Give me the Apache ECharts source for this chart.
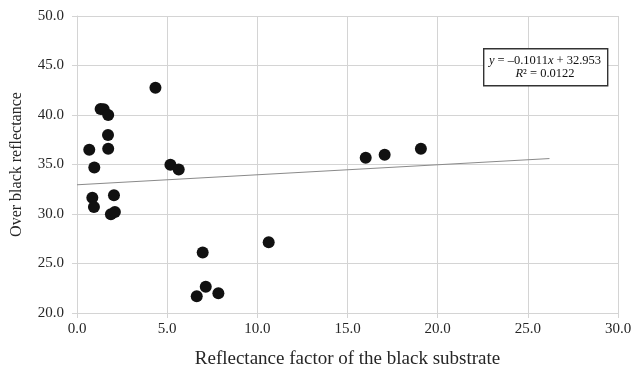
<!DOCTYPE html>
<html><head><meta charset="utf-8">
<script src="https://cdn.jsdelivr.net/npm/echarts@6/dist/echarts.min.js"></script>
<style>html,body{margin:0;padding:0;background:#fff}#c{width:633px;height:372px}</style>
</head><body><div id="c"></div>
<script>
// Data
const xValues = [0.68, 0.96, 0.85, 0.94, 1.31, 1.48, 1.73, 1.72, 1.73, 2.05, 1.88, 2.10, 4.35, 5.18, 5.64, 6.97, 7.14, 6.64, 7.84, 10.63, 16.01, 17.06, 19.07];
const yValues = [36.5, 34.7, 31.65, 30.7, 40.6, 40.57, 40.0, 37.98, 36.6, 31.9, 29.97, 30.2, 42.76, 34.98, 34.5, 26.1, 22.66, 21.7, 21.99, 27.14, 35.69, 35.99, 36.6];
const trendX = [0, 26.2];
const trendY = [32.95, 35.6];
const xTickLabels = ['0.0', '5.0', '10.0', '15.0', '20.0', '25.0', '30.0'];
const yTickLabels = ['20.0', '25.0', '30.0', '35.0', '40.0', '45.0', '50.0'];
const xTitle = 'Reflectance factor of the black substrate';
const yTitle = 'Over black reflectance';
const eqLine1 = ['y', ' = \u20130.1011', 'x', ' + 32.953'];
const eqLine2 = ['R', '\u00b2 = 0.0122'];

const chart = echarts.init(document.getElementById('c'), null, {renderer: 'canvas'});
const serif = '"Liberation Serif", "Times New Roman", serif';
const gridColor = '#d4d4d4';
const textColor = '#262626';

const points = xValues.map((x, i) => [x, yValues[i]]);
const trend = trendX.map((x, i) => [x, trendY[i]]);

chart.setOption({
  animation: false,
  backgroundColor: '#fff',
  grid: {left: 77, right: 15, top: 16, bottom: 59, containLabel: false, outerBoundsMode: 'none'},
  xAxis: {
    type: 'value', min: 0, max: 30, interval: 5,
    axisLine: {show: true, lineStyle: {color: gridColor, width: 1}},
    axisTick: {show: true, length: 5, lineStyle: {color: gridColor}},
    splitLine: {show: true, lineStyle: {color: gridColor, width: 1}},
    axisLabel: {
      margin: 9, color: textColor, fontFamily: serif, fontSize: 15,
      formatter: (v) => xTickLabels[Math.round(v / 5)]
    },
    name: xTitle, nameLocation: 'middle', nameGap: 37,
    nameTextStyle: {color: textColor, fontFamily: serif, fontSize: 19}
  },
  yAxis: {
    type: 'value', min: 20, max: 50, interval: 5,
    axisLine: {show: true, lineStyle: {color: gridColor, width: 1}},
    axisTick: {show: true, length: 5, lineStyle: {color: gridColor}},
    splitLine: {show: true, lineStyle: {color: gridColor, width: 1}},
    axisLabel: {
      margin: 13, color: textColor, fontFamily: serif, fontSize: 15,
      formatter: (v) => yTickLabels[Math.round((v - 20) / 5)]
    },
    name: yTitle, nameLocation: 'middle', nameGap: 52, nameRotate: 90,
    nameTextStyle: {color: textColor, fontFamily: serif, fontSize: 16}
  },
  series: [
    {
      type: 'line', data: trend, showSymbol: false, silent: true,
      lineStyle: {color: '#8a8a8a', width: 1}, z: 2
    },
    {
      type: 'scatter', data: points, symbol: 'circle', symbolSize: 12,
      itemStyle: {color: '#111111', opacity: 1}, z: 3
    }
  ],
  graphic: [
    {
      type: 'rect', left: 483, top: 48, z: 10,
      shape: {width: 124, height: 37},
      style: {fill: '#fff', stroke: '#333', lineWidth: 1.4}
    },
    {
      type: 'text', x: 545, y: 61, z: 11,
      style: {
        text: '{i|' + eqLine1[0] + '}{n|' + eqLine1[1] + '}{i|' + eqLine1[2] + '}{n|' + eqLine1[3] + '}',
        align: 'center', verticalAlign: 'middle',
        rich: {
          i: {fontFamily: serif, fontStyle: 'italic', fontSize: 12.5, fill: '#111'},
          n: {fontFamily: serif, fontSize: 12.5, fill: '#111'}
        }
      }
    },
    {
      type: 'text', x: 545, y: 74, z: 11,
      style: {
        text: '{i|' + eqLine2[0] + '}{n|' + eqLine2[1] + '}',
        align: 'center', verticalAlign: 'middle',
        rich: {
          i: {fontFamily: serif, fontStyle: 'italic', fontSize: 12.5, fill: '#111'},
          n: {fontFamily: serif, fontSize: 12.5, fill: '#111'}
        }
      }
    }
  ]
});
</script>
</body></html>
